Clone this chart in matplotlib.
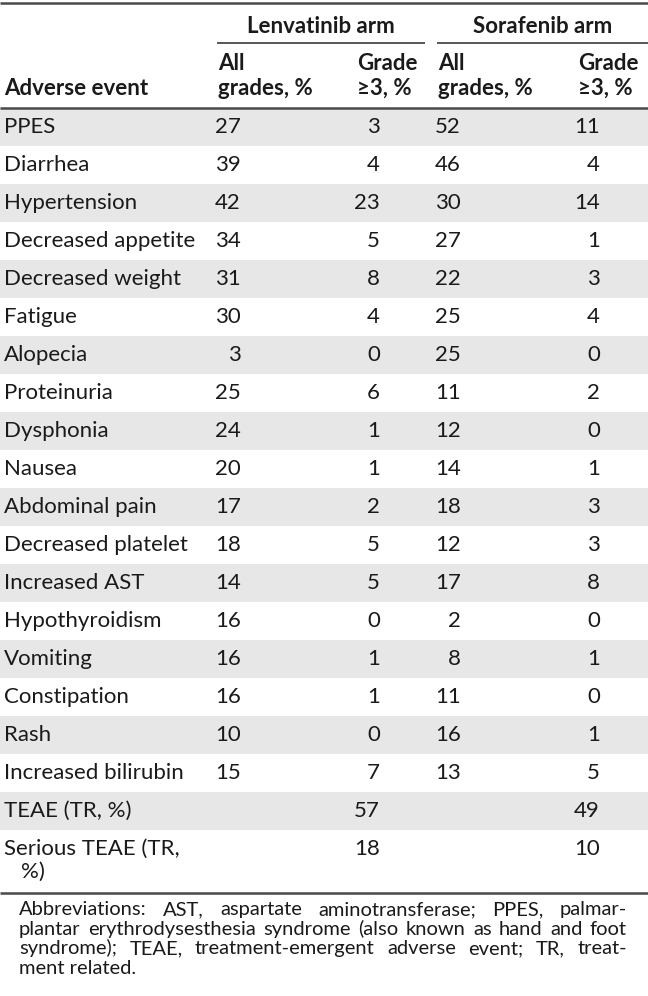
import numpy as np
import matplotlib
matplotlib.use('Agg')
import matplotlib.pyplot as plt
from matplotlib.patches import Rectangle

# 数据
events = ['PPES', 'Diarrhea', 'Hypertension', 'Decreased appetite', 'Decreased weight',
          'Fatigue', 'Alopecia', 'Proteinuria', 'Dysphonia', 'Nausea', 'Abdominal pain',
          'Decreased platelet', 'Increased AST', 'Hypothyroidism', 'Vomiting',
          'Constipation', 'Rash', 'Increased bilirubin', 'TEAE (TR, %)']
len_all = ['27', '39', '42', '34', '31', '30', '3', '25', '24', '20', '17', '18', '14',
           '16', '16', '16', '10', '15', '']
len_g3 = ['3', '4', '23', '5', '8', '4', '0', '6', '1', '1', '2', '5', '5', '0', '1', '1',
          '0', '7', '57']
sor_all = ['52', '46', '30', '27', '22', '25', '25', '11', '12', '14', '18', '12', '17',
           '2', '8', '11', '16', '13', '']
sor_g3 = ['11', '4', '14', '1', '3', '4', '0', '2', '0', '1', '3', '3', '8', '0', '1', '0',
          '1', '5', '49']
last_event = ['Serious TEAE (TR,', '%)']
last_vals = ['', '18', '', '10']

arms = ['Lenvatinib arm', 'Sorafenib arm']
sub_headers = [['All', 'grades, %'], ['Grade', '\u22653, %'], ['All', 'grades, %'], ['Grade', '\u22653, %']]
first_header = 'Adverse event'
footnote_lines = [
    'Abbreviations: AST, aspartate aminotransferase; PPES, palmar-',
    'plantar erythrodysesthesia syndrome (also known as hand and foot',
    'syndrome); TEAE, treatment-emergent adverse event; TR, treat-',
    'ment related.',
]

W, H = 648, 996
fig = plt.figure(figsize=(W / 100, H / 100), dpi=100)
ax = fig.add_axes([0, 0, 1, 1])
ax.set_xlim(0, W)
ax.set_ylim(H, 0)
ax.axis('off')

plt.rcParams['font.family'] = ['Lato', 'DejaVu Sans']
fs = 16
fs_foot = 14.5
tc = '#1a1a1a'
rule_c = '#4a4a4a'

# 列位置（数字右对齐）
x_name = 4
x_cols = [241, 380, 461, 600]
x_head = [218, 357, 438, 578]

head_bottom = 108
pitch = 38

# 表头
ax.plot([0, W], [3, 3], color=rule_c, lw=1.8, solid_capstyle='butt')
arm_spans = [(217, 425), (437, W)]
for name, (a, b) in zip(arms, arm_spans):
    ax.text((a + b) / 2, 33, name, ha='center', va='baseline', fontsize=fs,
            fontweight='bold', color=tc)
    ax.plot([a, b], [43, 43], color=rule_c, lw=1.3, solid_capstyle='butt')
for x, lines in zip(x_head, sub_headers):
    ax.text(x, 70, lines[0], ha='left', va='baseline', fontsize=fs, fontweight='bold', color=tc)
    ax.text(x, 95, lines[1], ha='left', va='baseline', fontsize=fs, fontweight='bold', color=tc)
ax.text(x_name, 95, first_header, ha='left', va='baseline', fontsize=fs, fontweight='bold', color=tc)

# 行
for i, ev in enumerate(events):
    top = head_bottom + i * pitch
    if i % 2 == 0:
        ax.add_patch(Rectangle((0, top), W, pitch, facecolor='#e7e7e7', edgecolor='none', zorder=0))
    base = top + 25
    ax.text(x_name, base, ev, ha='left', va='baseline', fontsize=fs, color=tc)
    for x, col in zip(x_cols, [len_all, len_g3, sor_all, sor_g3]):
        ax.text(x, base, col[i], ha='right', va='baseline', fontsize=fs, color=tc)

top = head_bottom + len(events) * pitch
base = top + 25
ax.text(x_name, base, last_event[0], ha='left', va='baseline', fontsize=fs, color=tc)
ax.text(x_name + 17, base + 23, last_event[1], ha='left', va='baseline', fontsize=fs, color=tc)
for x, v in zip(x_cols, last_vals):
    ax.text(x, base, v, ha='right', va='baseline', fontsize=fs, color=tc)

ax.plot([0, W], [head_bottom, head_bottom], color=rule_c, lw=1.8, solid_capstyle='butt')
bottom = 893
ax.plot([0, W], [bottom, bottom], color=rule_c, lw=1.8, solid_capstyle='butt')

# 脚注（两端对齐）
fig.canvas.draw()
renderer = fig.canvas.get_renderer()


def word_width(s):
    t = ax.text(0, 0, s, fontsize=fs_foot)
    w = t.get_window_extent(renderer).width
    t.remove()
    return w


fx0, fx1 = 19, 627
for k, line in enumerate(footnote_lines):
    y = 915 + k * 19.5
    if k == len(footnote_lines) - 1:
        ax.text(fx0, y, line, ha='left', va='baseline', fontsize=fs_foot, color=tc)
        continue
    words = line.split(' ')
    widths = [word_width(w) for w in words]
    gap = (fx1 - fx0 - sum(widths)) / (len(words) - 1)
    x = fx0
    for w, wd in zip(words, widths):
        ax.text(x, y, w, ha='left', va='baseline', fontsize=fs_foot, color=tc)
        x += wd + gap

fig.savefig('out.png', dpi=100)
